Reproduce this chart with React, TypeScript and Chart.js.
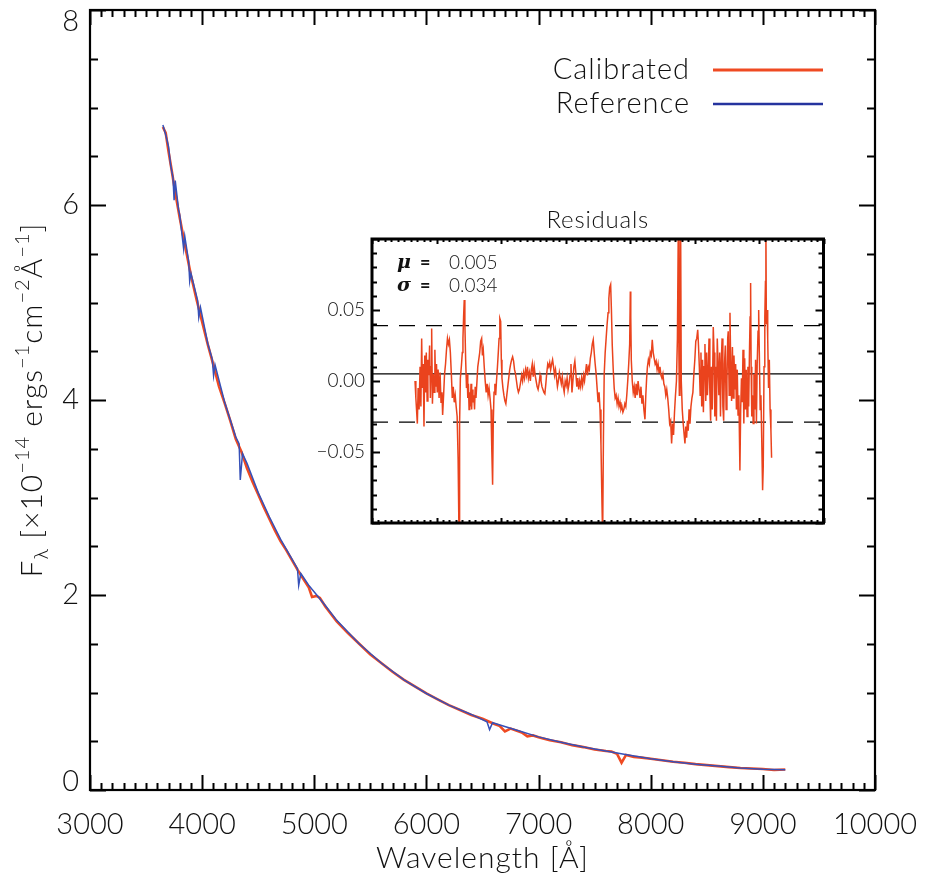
import React, { useEffect, useRef } from "react";
import { Chart, registerables } from "chart.js";
Chart.register(...registerables);

const FONT = "Lato, 'DejaVu Sans', sans-serif";
const W = "300";

// ---- main axes ----
const X_MIN = 3000;
const X_MAX = 10000;
const X_MAJOR = 1000;
const X_MINOR = 100;
const Y_MIN = 0;
const Y_MAX = 8;
const Y_MAJOR = 2;
const Y_MINOR = 0.5;

// ---- calibrated spectrum (red) ----
const calWave = [3650,3675,3700,3725,3750,3775,3800,3850,3900,3950,4000,4050,4100,4150,4200,4250,4300,4350,4400,4450,4500,4550,4600,4650,4700,4750,4800,4850,4900,4950,4980,5020,5050,5100,5200,5300,5400,5500,5600,5700,5800,5900,6000,6100,6200,6300,6400,6500,6600,6650,6700,6750,6800,6850,6900,6950,7000,7100,7200,7300,7400,7500,7600,7650,7700,7740,7780,7850,7900,8000,8100,8200,8300,8400,8500,8600,8700,8800,8900,9000,9100,9200];
const calFlux = [6.80,6.74,6.55,6.38,6.20,6.03,5.87,5.57,5.28,5.03,4.80,4.57,4.36,4.14,3.97,3.79,3.60,3.47,3.30,3.16,3.03,2.90,2.78,2.66,2.55,2.46,2.36,2.26,2.17,2.08,1.98,1.99,1.97,1.88,1.73,1.61,1.50,1.39,1.30,1.21,1.13,1.06,0.99,0.93,0.87,0.82,0.77,0.73,0.68,0.66,0.60,0.63,0.61,0.59,0.55,0.56,0.54,0.51,0.49,0.46,0.44,0.415,0.40,0.395,0.37,0.28,0.36,0.34,0.335,0.32,0.305,0.29,0.28,0.265,0.255,0.245,0.235,0.225,0.22,0.215,0.205,0.21];

// ---- reference spectrum (blue) ----
const refWave = [3650,3680,3700,3720,3740,3750,3760,3790,3800,3835,3845,3880,3889,3900,3960,3970,3985,4050,4090,4102,4115,4200,4300,4330,4340,4360,4400,4500,4600,4700,4800,4850,4861,4880,4950,5000,5100,5200,5400,5600,5800,6000,6200,6400,6540,6563,6590,6800,7000,7200,7400,7600,7800,8000,8200,8400,8600,8800,9000,9200];
const refFlux = [6.82,6.70,6.60,6.40,6.28,6.05,6.25,5.95,5.90,5.55,5.68,5.42,5.22,5.30,5.02,4.85,4.95,4.58,4.42,4.25,4.36,3.98,3.62,3.55,3.18,3.45,3.35,3.05,2.80,2.57,2.37,2.27,2.10,2.22,2.10,2.03,1.89,1.74,1.50,1.30,1.13,0.99,0.87,0.775,0.70,0.62,0.69,0.615,0.545,0.49,0.44,0.40,0.36,0.32,0.29,0.265,0.245,0.225,0.213,0.208];

// ---- residuals (inset) ----
const MU = 0.005;
const SIGMA = 0.034;
const RES_MIN = -0.1;
const RES_MAX = 0.1;
const resWave = [3667,3680,3703,3715,3730,3745,3758,3770,3782,3794,3806,3818,3830,3842,3855,3867,3880,3893,3905,3915,3925,3937,3950,3962,3975,3987,4000,4012,4025,4040,4055,4070,4085,4095,4110,4125,4140,4155,4170,4185,4200,4215,4230,4245,4260,4275,4290,4305,4320,4335,4349,4358,4370,4385,4400,4410,4420,4430,4440,4452,4465,4475,4485,4495,4505,4515,4525,4535,4545,4555,4565,4578,4590,4600,4612,4625,4640,4655,4670,4685,4700,4712,4725,4740,4755,4770,4785,4800,4815,4830,4845,4858,4870,4880,4892,4905,4918,4930,4945,4958,4970,4982,4995,5005,5015,5030,5045,5060,5075,5090,5105,5120,5135,5150,5165,5180,5195,5210,5225,5240,5255,5270,5285,5300,5320,5335,5350,5365,5380,5395,5410,5425,5440,5455,5470,5485,5500,5515,5530,5545,5560,5575,5590,5605,5620,5635,5650,5665,5680,5695,5710,5725,5740,5755,5770,5785,5800,5815,5830,5845,5860,5875,5890,5905,5920,5935,5950,5965,5980,5995,6010,6025,6040,6055,6070,6085,6100,6115,6130,6145,6160,6175,6190,6205,6220,6235,6250,6265,6280,6295,6310,6325,6340,6355,6370,6385,6400,6415,6430,6445,6460,6475,6490,6505,6520,6535,6550,6565,6576,6588,6600,6615,6630,6645,6660,6672,6685,6700,6712,6725,6740,6755,6770,6785,6800,6815,6830,6845,6860,6875,6890,6905,6920,6935,6950,6965,6980,6995,7005,7012,7020,7035,7050,7065,7080,7095,7110,7125,7140,7155,7170,7185,7200,7215,7232,7245,7258,7270,7285,7300,7315,7330,7345,7360,7375,7390,7405,7420,7435,7450,7465,7480,7495,7510,7525,7540,7555,7570,7585,7600,7615,7630,7645,7660,7675,7690,7705,7720,7735,7749,7758,7765,7775,7785,7795,7810,7825,7840,7852,7865,7878,7890,7903,7916,7930,7945,7960,7975,7990,8005,8020,8035,8050,8062,8075,8088,8100,8112,8125,8138,8150,8162,8175,8188,8200,8212,8225,8238,8250,8262,8275,8291,8303,8315,8328,8340,8353,8365,8378,8390,8403,8416,8428,8440,8452,8465,8478,8490,8503,8515,8523,8538,8550,8562,8575,8588,8600,8612,8625,8638,8650,8663,8675,8688,8704,8716,8728,8740,8752,8765,8778,8790,8802,8815,8828,8840,8852,8862,8870,8878,8888,8898,8910,8922,8935,8947,8960,8972,8985,8995,9005,9018,9030,9042,9056,9066,9078,9090,9100,9107,9114,9125,9135,9148,9160,9172,9185,9195];
const resValue = [0.000,-0.012,-0.030,-0.005,-0.020,0.010,-0.018,0.030,-0.005,0.012,-0.032,0.018,-0.008,0.020,-0.014,0.015,0.004,0.025,-0.012,0.010,0.037,-0.016,0.005,-0.008,0.022,-0.004,0.012,-0.008,0.008,-0.012,0.006,-0.015,-0.008,-0.024,-0.010,0.005,0.012,0.022,0.030,0.026,0.029,0.020,0.005,-0.012,-0.004,-0.015,-0.010,-0.018,-0.025,-0.055,-0.110,-0.030,0.002,0.010,0.020,0.030,0.045,0.057,0.040,0.015,-0.005,0.005,-0.012,-0.002,-0.020,-0.008,-0.018,-0.002,-0.020,-0.006,-0.015,-0.010,-0.020,-0.004,-0.012,-0.002,0.010,0.015,0.020,0.028,0.030,0.018,0.022,0.010,0.000,-0.008,-0.002,-0.010,-0.005,-0.012,-0.020,-0.050,-0.073,-0.030,-0.008,-0.002,-0.010,0.000,0.010,0.020,0.030,0.044,0.042,0.015,0.002,-0.005,-0.010,-0.014,-0.016,-0.010,-0.004,0.002,0.008,0.012,0.015,0.017,0.014,0.008,0.005,0.000,-0.005,-0.008,-0.006,-0.002,0.004,0.000,0.006,0.002,0.008,0.004,0.010,0.002,0.006,0.000,0.008,0.012,0.003,0.010,0.004,0.000,-0.004,-0.006,-0.002,0.004,0.000,-0.004,-0.006,-0.008,-0.009,-0.002,0.006,0.012,0.010,0.013,0.008,0.012,0.015,0.010,0.004,0.008,0.002,-0.004,0.000,0.006,0.002,-0.002,0.003,-0.004,-0.008,0.000,-0.003,0.002,-0.006,-0.002,0.004,0.012,-0.008,0.000,0.010,0.014,0.006,-0.004,0.002,-0.006,0.000,-0.004,0.002,-0.003,0.004,0.000,0.006,0.012,0.004,0.010,0.008,0.016,0.020,0.026,0.029,0.020,0.012,0.005,-0.005,-0.015,-0.008,-0.020,-0.045,-0.085,-0.110,-0.040,0.005,0.020,0.030,0.040,0.048,0.058,0.066,0.068,0.050,0.025,0.008,-0.005,-0.012,-0.010,-0.016,-0.012,-0.018,-0.015,-0.020,-0.018,-0.022,-0.020,-0.016,-0.018,-0.010,0.000,0.012,0.026,0.063,0.045,0.015,0.000,-0.008,-0.004,-0.012,-0.002,-0.010,0.000,-0.006,-0.012,-0.004,-0.016,-0.010,-0.020,-0.027,-0.010,0.002,0.010,0.015,0.012,0.020,0.018,0.029,0.020,0.016,0.012,0.014,0.008,0.012,0.006,0.010,0.004,0.002,0.005,-0.002,-0.004,-0.010,-0.006,-0.012,-0.020,-0.030,-0.028,-0.044,-0.030,-0.038,-0.022,-0.010,0.000,0.030,0.110,0.020,-0.010,0.040,0.110,0.000,-0.020,-0.030,-0.038,-0.044,-0.032,-0.040,-0.028,-0.035,-0.020,-0.030,-0.018,-0.012,-0.008,0.005,0.015,0.028,0.030,0.036,0.025,0.010,-0.010,0.020,-0.018,0.015,-0.022,0.010,0.026,-0.014,0.020,-0.010,0.005,0.030,-0.008,-0.028,0.010,-0.020,0.038,0.020,-0.025,0.010,-0.028,0.030,0.012,-0.010,0.020,-0.025,0.015,0.030,-0.018,-0.028,0.012,0.025,-0.020,0.000,0.030,0.035,-0.010,0.048,0.010,-0.014,0.024,-0.012,0.018,-0.006,0.012,-0.020,0.008,-0.024,-0.010,-0.063,-0.020,0.002,-0.015,0.022,-0.030,0.016,-0.020,0.008,-0.025,0.010,-0.018,0.020,0.045,0.069,0.010,-0.025,-0.010,-0.030,0.005,-0.020,0.015,-0.030,0.012,0.035,0.050,0.020,-0.020,-0.010,-0.040,-0.077,-0.060,0.010,0.045,0.070,0.110,0.040,0.050,0.030,-0.005,0.015,-0.020,-0.035,-0.054];

const RED = "#ef4a22";
const BLUE = "#3650b8";
const LEGEND_BLUE = "#25339e";

const seriesLabels = ["Calibrated", "Reference"];

function pts(xs: number[], ys: number[]) {
  return xs.map((x, i) => ({ x, y: ys[i] }));
}

type Seg = { t: string; k: "n" | "sup" | "sub" };
const yTitle: Seg[] = [
  { t: "F", k: "n" },
  { t: "λ", k: "sub" },
  { t: " [×10", k: "n" },
  { t: "−14", k: "sup" },
  { t: " ergs", k: "n" },
  { t: "−1", k: "sup" },
  { t: "cm", k: "n" },
  { t: "−2", k: "sup" },
  { t: "Å", k: "n" },
  { t: "−1", k: "sup" },
  { t: "]", k: "n" },
];

function drawRich(ctx: CanvasRenderingContext2D, segs: Seg[], size: number) {
  const fontFor = (k: string) => `${W} ${k === "n" ? size : Math.round(size * 0.68)}px ${FONT}`;
  (ctx as any).letterSpacing = "1px";
  let total = 0;
  for (const s of segs) {
    ctx.font = fontFor(s.k);
    total += ctx.measureText(s.t).width;
  }
  let x = -total / 2;
  ctx.textBaseline = "alphabetic";
  ctx.textAlign = "left";
  const base = size * 0.36;
  for (const s of segs) {
    ctx.font = fontFor(s.k);
    const dy = s.k === "sup" ? -size * 0.42 : s.k === "sub" ? size * 0.22 : 0;
    ctx.fillText(s.t, x, base + dy);
    x += ctx.measureText(s.t).width;
  }
  (ctx as any).letterSpacing = "0px";
}

const mainDeco = {
  id: "mainDeco",
  afterDraw(chart: any) {
    const { ctx, chartArea: a, scales } = chart;
    const xs = scales.x;
    const ys = scales.y;
    ctx.save();
    ctx.strokeStyle = "#000";
    ctx.fillStyle = "#000";
    // ticks
    ctx.lineWidth = 2;
    ctx.beginPath();
    for (let v = X_MIN; v <= X_MAX + 1e-6; v += X_MINOR) {
      const major = Math.abs(v / X_MAJOR - Math.round(v / X_MAJOR)) < 1e-6;
      const len = major ? 15 : 7;
      const px = Math.round(xs.getPixelForValue(v)) + 0.5;
      ctx.moveTo(px, a.bottom);
      ctx.lineTo(px, a.bottom - len);
      ctx.moveTo(px, a.top);
      ctx.lineTo(px, a.top + len);
    }
    for (let v = Y_MIN; v <= Y_MAX + 1e-6; v += Y_MINOR) {
      const major = Math.abs(v / Y_MAJOR - Math.round(v / Y_MAJOR)) < 1e-6;
      const len = major ? 16 : 8;
      const py = Math.round(ys.getPixelForValue(v)) + 0.5;
      ctx.moveTo(a.left, py);
      ctx.lineTo(a.left + len, py);
      ctx.moveTo(a.right, py);
      ctx.lineTo(a.right - len, py);
    }
    ctx.stroke();
    // frame
    ctx.lineWidth = 2.2;
    ctx.strokeRect(a.left, a.top, a.right - a.left, a.bottom - a.top);

    // y tick labels, kept inside the axis span like the original
    ctx.fillStyle = "#111";
    ctx.font = `${W} 29px ${FONT}`;
    ctx.textAlign = "right";
    ctx.textBaseline = "middle";
    for (let v = Y_MIN; v <= Y_MAX + 1e-6; v += Y_MAJOR) {
      const py = ys.getPixelForValue(v);
      const yy = Math.min(Math.max(py, a.top + 12), a.bottom - 8);
      ctx.fillText(String(v), a.left - 11, yy);
    }

    // legend
    ctx.font = `${W} 29px ${FONT}`;
    (ctx as any).letterSpacing = "1px";
    ctx.textAlign = "right";
    ctx.textBaseline = "middle";
    const colors = [RED, LEGEND_BLUE];
    seriesLabels.forEach((lab, i) => {
      const yy = a.top + 60 + i * 34;
      ctx.fillStyle = "#111";
      ctx.fillText(lab, a.right - 185, yy);
      ctx.strokeStyle = colors[i];
      ctx.lineWidth = i === 0 ? 3 : 2.5;
      ctx.beginPath();
      ctx.moveTo(a.right - 162, yy);
      ctx.lineTo(a.right - 52, yy);
      ctx.stroke();
    });

    // x title
    ctx.fillStyle = "#111";
    ctx.font = `${W} 30px ${FONT}`;
    ctx.textAlign = "center";
    ctx.textBaseline = "middle";
    ctx.fillText("Wavelength [Å]", (a.left + a.right) / 2, 858);
    (ctx as any).letterSpacing = "0px";

    // y title
    ctx.save();
    ctx.translate(31, (a.top + a.bottom) / 2);
    ctx.rotate(-Math.PI / 2);
    drawRich(ctx, yTitle, 30);
    ctx.restore();
    ctx.restore();
  },
};

const insetDeco = {
  id: "insetDeco",
  afterDraw(chart: any) {
    const { ctx, chartArea: a, scales } = chart;
    const xs = scales.x;
    const ys = scales.y;
    ctx.save();
    ctx.strokeStyle = "#000";
    ctx.lineWidth = 2;
    ctx.beginPath();
    for (let v = X_MIN; v <= X_MAX + 1e-6; v += X_MINOR) {
      const major = Math.abs(v / X_MAJOR - Math.round(v / X_MAJOR)) < 1e-6;
      const len = major ? 5 : 3;
      const px = Math.round(xs.getPixelForValue(v)) + 0.5;
      ctx.moveTo(px, a.bottom);
      ctx.lineTo(px, a.bottom - len);
      ctx.moveTo(px, a.top);
      ctx.lineTo(px, a.top + len);
    }
    for (let i = 0; i <= 20; i++) {
      const v = RES_MIN + i * 0.01;
      const major = i % 5 === 0;
      const len = major ? 8 : 5;
      const py = Math.round(ys.getPixelForValue(v)) + 0.5;
      ctx.moveTo(a.left, py);
      ctx.lineTo(a.left + len, py);
      ctx.moveTo(a.right, py);
      ctx.lineTo(a.right - len, py);
    }
    ctx.stroke();
    ctx.lineWidth = 3;
    ctx.strokeRect(a.left, a.top, a.right - a.left, a.bottom - a.top);

    ctx.fillStyle = "#111";
    ctx.textAlign = "center";
    ctx.textBaseline = "middle";
    ctx.font = `${W} 24px ${FONT}`;
    (ctx as any).letterSpacing = "0.8px";
    ctx.fillText("Residuals", (a.left + a.right) / 2, a.top - 19);
    (ctx as any).letterSpacing = "0px";

    ctx.textAlign = "left";
    const rows: [string, string][] = [
      ["μ", MU.toFixed(3)],
      ["σ", SIGMA.toFixed(3)],
    ];
    rows.forEach(([sym, val], i) => {
      const yy = a.top + 24 + i * 23;
      ctx.font = `italic bold 19px 'DejaVu Serif', serif`;
      ctx.fillText(sym, a.left + 25, yy);
      ctx.font = `bold 18px ${FONT}`;
      ctx.fillText("=", a.left + 48, yy);
      ctx.font = `${W} 19px ${FONT}`;
      ctx.fillText(val, a.left + 77, yy);
    });
    ctx.restore();
  },
};

export default function App() {
  const mainRef = useRef<HTMLCanvasElement>(null);
  const insetRef = useRef<HTMLCanvasElement>(null);

  useEffect(() => {
    const main = new Chart(mainRef.current!, {
      type: "line",
      data: {
        datasets: [
          {
            label: seriesLabels[0],
            data: pts(calWave, calFlux),
            borderColor: RED,
            borderWidth: 2.6,
            pointRadius: 0,
            tension: 0,
            order: 2,
          },
          {
            label: seriesLabels[1],
            data: pts(refWave, refFlux),
            borderColor: BLUE,
            borderWidth: 1.5,
            pointRadius: 0,
            tension: 0,
            order: 1,
          },
        ],
      },
      options: {
        responsive: false,
        animation: false,
        devicePixelRatio: 1,
        layout: { padding: { left: 0, top: 10, right: 50, bottom: 0 } },
        plugins: { legend: { display: false }, tooltip: { enabled: false } },
        scales: {
          x: {
            type: "linear",
            min: X_MIN,
            max: X_MAX,
            grid: { display: false, drawTicks: false },
            border: { display: false },
            ticks: {
              stepSize: X_MAJOR,
              padding: 17,
              color: "#111",
              font: { family: FONT, size: 29, weight: W },
              maxRotation: 0,
              autoSkip: false,
              callback: (v: any) => String(v),
            },
            afterFit: (s: any) => {
              s.height = 90;
              s.paddingLeft = 0;
              s.paddingRight = 0;
            },
          },
          y: {
            type: "linear",
            min: Y_MIN,
            max: Y_MAX,
            grid: { display: false, drawTicks: false },
            border: { display: false },
            ticks: { display: false, stepSize: Y_MAJOR },
            afterFit: (s: any) => {
              s.width = 90;
              s.paddingTop = 0;
              s.paddingBottom = 0;
            },
          },
        },
      },
      plugins: [mainDeco],
    } as any);

    const inset = new Chart(insetRef.current!, {
      type: "line",
      data: {
        datasets: [
          {
            data: pts(resWave, resValue),
            borderColor: "#ea431d",
            borderWidth: 1.5,
            pointRadius: 0,
            tension: 0,
          },
          {
            data: pts([X_MIN, X_MAX], [MU, MU]),
            borderColor: "#000",
            borderWidth: 1.3,
            pointRadius: 0,
          },
          {
            data: pts([X_MIN, X_MAX], [MU + SIGMA, MU + SIGMA]),
            borderColor: "#000",
            borderWidth: 1.3,
            borderDash: [16, 11],
            pointRadius: 0,
          },
          {
            data: pts([X_MIN, X_MAX], [MU - SIGMA, MU - SIGMA]),
            borderColor: "#000",
            borderWidth: 1.3,
            borderDash: [16, 11],
            pointRadius: 0,
          },
        ],
      },
      options: {
        responsive: false,
        animation: false,
        devicePixelRatio: 1,
        layout: { padding: { left: 0, top: 44, right: 26.5, bottom: 17 } },
        plugins: { legend: { display: false }, tooltip: { enabled: false } },
        scales: {
          x: {
            type: "linear",
            display: false,
            min: X_MIN,
            max: X_MAX,
          },
          y: {
            type: "linear",
            min: RES_MIN,
            max: RES_MAX,
            grid: { display: false, drawTicks: false },
            border: { display: false },
            ticks: {
              stepSize: 0.05,
              padding: 7,
              color: "#111",
              font: { family: FONT, size: 19, weight: W },
              callback: (v: any) =>
                Math.abs(v) > 0.07 ? "" : Number(v).toFixed(2).replace("-", "−"),
            },
            afterFit: (s: any) => {
              s.width = 82;
              s.paddingTop = 0;
              s.paddingBottom = 0;
            },
          },
        },
      },
      plugins: [insetDeco],
    } as any);

    return () => {
      main.destroy();
      inset.destroy();
    };
  }, []);

  return (
    <div style={{ position: "absolute", left: 0, top: 0, width: 925, height: 880, background: "#fff" }}>
      <canvas ref={mainRef} width={925} height={880} style={{ position: "absolute", left: 0, top: 0 }} />
      <canvas ref={insetRef} width={560} height={345} style={{ position: "absolute", left: 290, top: 195 }} />
    </div>
  );
}
